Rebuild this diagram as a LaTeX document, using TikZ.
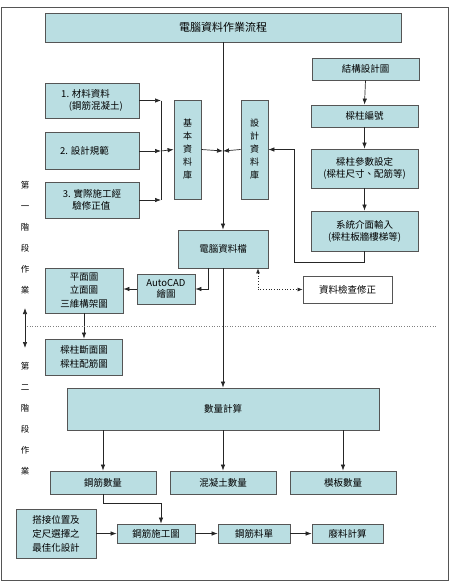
\documentclass[tikz,border=0pt]{standalone}
\usepackage{fontspec}
\newfontfamily\cjk{Noto Sans CJK TC}
\usetikzlibrary{arrows.meta}

\definecolor{boxfill}{RGB}{186,222,226}
\definecolor{boxline}{RGB}{85,85,85}

\begin{document}
\begin{tikzpicture}[
    x=1pt,
    y=-1pt,
    font=\cjk\fontsize{9.5}{12}\selectfont,
    box/.style={
        draw=boxline,
        fill=boxfill,
        line width=0.8pt,
        inner sep=0pt,
        align=center
    },
    plain/.style={
        draw=boxline,
        fill=white,
        line width=0.8pt,
        inner sep=0pt,
        align=center
    },
    link/.style={line width=0.7pt, draw=black!85},
    arr/.style={link, -{Latex[length=6pt,width=4.5pt]}},
    dotarr/.style={
        link,
        dotted,
        {Latex[length=5pt,width=4pt]}-{Latex[length=5pt,width=4pt]}
    },
    stage/.style={
        font=\cjk\fontsize{8.5}{21}\selectfont,
        align=center,
        inner sep=0pt
    },
    vtext/.style={font=\cjk\fontsize{9}{13}\selectfont}
]

% =========================================================
% Рамка и поля
% =========================================================

\useasboundingbox (0,0) rectangle (453,582);
\draw[boxline, line width=1pt] (1,7) rectangle (448,580);

% =========================================================
% Верхний блок
% =========================================================

\node[box, minimum width=356pt, minimum height=29pt,
      font=\cjk\fontsize{11}{13}\selectfont]
    (title) at (223,27.5) {電腦資料作業流程};

% =========================================================
% Исходные данные (слева)
% =========================================================

\node[box, minimum width=94pt, minimum height=35pt, align=left]
    (mat) at (92,100.5) {1. 材料資料\\\hspace{0.8em}(鋼筋混凝土)};

\node[box, minimum width=94pt, minimum height=37pt]
    (code) at (92,151) {2. 設計規範\hspace{1.6em}};

\node[box, minimum width=94pt, minimum height=36pt, align=left]
    (exp) at (92,200) {3. 實際施工經\\\hspace{1em}驗修正值};

\coordinate (bus1) at (161,100.5);
\coordinate (bus2) at (161,151);
\coordinate (bus3) at (161,200);

% =========================================================
% Базы данных
% =========================================================

\node[box, vtext, minimum width=27pt, minimum height=99pt]
    (basedb) at (187.5,149.5) {基\\本\\資\\料\\庫};

\node[box, vtext, minimum width=27pt, minimum height=99pt]
    (designdb) at (254.5,149.5) {設\\計\\資\\料\\庫};

\coordinate (mid) at (223,151);

% =========================================================
% Правая колонка
% =========================================================

\node[box, minimum width=107pt, minimum height=22pt]
    (plan) at (365.5,69) {結構設計圖};

\node[box, minimum width=107pt, minimum height=22pt]
    (number) at (364.5,116) {樑柱編號};

\node[box, minimum width=107pt, minimum height=39pt]
    (param) at (364.5,168.5) {樑柱參數設定\\(樑柱尺寸、配筋等)};

\node[box, minimum width=107pt, minimum height=40pt]
    (input) at (364.5,231) {系統介面輸入\\(樑柱板牆樓梯等)};

\coordinate (loop) at (294,262);

% =========================================================
% Файл данных и чертежи
% =========================================================

\node[box, minimum width=90pt, minimum height=38pt]
    (file) at (223,249) {電腦資料檔};

\node[box, minimum width=58pt, minimum height=30pt,
      font=\cjk\fontsize{9.5}{11.5}\selectfont]
    (cad) at (166,289) {AutoCAD\\繪圖};

\node[box, minimum width=78pt, minimum height=45pt,
      font=\cjk\fontsize{9.5}{13.5}\selectfont]
    (views) at (84,290.5) {平面圖\\立面圖\\三維構架圖};

\node[box, minimum width=77pt, minimum height=36pt,
      font=\cjk\fontsize{9.5}{13.5}\selectfont]
    (section) at (84,357) {樑柱斷面圖\\樑柱配筋圖};

\node[plain, minimum width=89pt, minimum height=27pt]
    (check) at (347.5,289.5) {資料檢查修正};

% =========================================================
% Этапы работы
% =========================================================

\node[stage] (stage1) at (25,237.5) {第\\一\\階\\段\\作\\業};
\node[stage] (stage2) at (25,418.5) {第\\二\\階\\段\\作\\業};

\coordinate (sepL) at (27,326);
\coordinate (sepR) at (436,326);
\coordinate (stA) at (25,308);
\coordinate (stB) at (25,348);

% =========================================================
% Подсчёт объёмов
% =========================================================

\node[box, minimum width=312pt, minimum height=42pt]
    (qty) at (223,409) {數量計算};

\node[box, minimum width=106pt, minimum height=23pt]
    (rebar) at (103,482.5) {鋼筋數量};

\node[box, minimum width=106pt, minimum height=23pt]
    (concrete) at (223,482.5) {混凝土數量};

\node[box, minimum width=106pt, minimum height=23pt]
    (form) at (343,482.5) {模板數量};

% =========================================================
% Нижний ряд
% =========================================================

\node[box, minimum width=80pt, minimum height=49pt,
      font=\cjk\fontsize{9.5}{14}\selectfont]
    (opt) at (56,533.5) {搭接位置及\\定尺選擇之\\最佳化設計};

\node[box, minimum width=78pt, minimum height=19pt]
    (shop) at (156,533.5) {鋼筋施工圖};

\node[box, minimum width=72pt, minimum height=19pt]
    (list) at (254,533.5) {鋼筋料單};

\node[box, minimum width=71pt, minimum height=19pt]
    (waste) at (347.5,533.5) {廢料計算};

% =========================================================
% Связи
% =========================================================

\draw[arr] (mat.east) -- (bus1);
\draw[arr] (exp.east) -- (bus3);
\draw[link] (bus1) -- (bus3);
\draw[arr] (code.east) -- (bus2);
\draw[arr] (bus2) -- (basedb.west);

\draw[arr] (basedb.east) -- (mid);
\draw[arr] (designdb.west) -- (mid);

\draw[arr] (title.south) -- (file.north);
\draw[arr] (file.south) -- (qty.north);

\draw[arr] (plan.south) -- (number.north);
\draw[arr] (number.south) -- (param.north);
\draw[arr] (param.south) -- (input.north);
\draw[arr] (input.south) |- (loop) |- (designdb.east);

\draw[arr] ([xshift=-15pt]file.south) |- (cad.east);
\draw[arr] (cad.west) -- (cad.west -| views.east);
\draw[arr] (views.south) -- (section.north);
\draw[dotarr] ([xshift=35pt]file.south) |- (check.west);

\draw[gray, dotted, line width=0.6pt] (sepL) -- (sepR);
\draw[link, {Latex[length=6pt,width=4.5pt]}-{Latex[length=6pt,width=4.5pt]}]
    (stA) -- (stB);

\draw[arr] (rebar.north |- qty.south) -- (rebar.north);
\draw[arr] (concrete.north |- qty.south) -- (concrete.north);
\draw[arr] (form.north |- qty.south) -- (form.north);

\draw[arr] (rebar.south) -- ++(0,9) -| ([xshift=5pt]shop.north);
\draw[arr] (opt.east) -- (shop.west);
\draw[arr] (shop.east) -- (list.west);
\draw[arr] (list.east) -- (waste.west);

\end{tikzpicture}
\end{document}
